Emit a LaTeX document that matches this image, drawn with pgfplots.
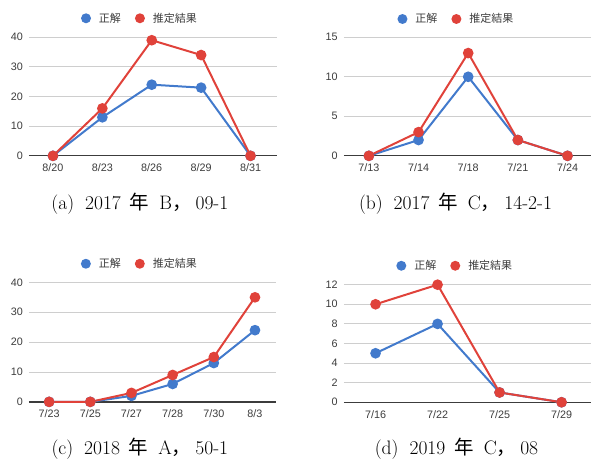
\documentclass[border=0pt]{standalone}
\usepackage{pgfplots}
\pgfplotsset{compat=1.18}
\usepackage{fontspec}
\newfontfamily\tickfont{Liberation Sans}
\newfontfamily\jpfont{Noto Sans CJK JP}

\definecolor{seriesblue}{RGB}{66,122,204}
\definecolor{seriesred}{RGB}{224,66,58}
\definecolor{gridgray}{RGB}{206,206,206}
\definecolor{labelgray}{RGB}{60,60,60}
\definecolor{basegray}{RGB}{60,60,60}

% daily counts: index, ground truth, estimate
\pgfplotstableread{
i truth est
0 0  0
1 13 16
2 24 39
3 23 34
4 0  0
}\dataA
\pgfplotstableread{
i truth est
0 0  0
1 2  3
2 10 13
3 2  2
4 0  0
}\dataB
\pgfplotstableread{
i truth est
0 0  0
1 0  0
2 2  3
3 6  9
4 13 15
5 24 35
}\dataC
\pgfplotstableread{
i truth est
0 5 10
1 8 12
2 1 1
3 0 0
}\dataD

\pgfplotsset{
  sheetchart/.style={
    scale only axis,
    clip=false,
    axis line style={draw=none},
    major tick length=0pt,
    ymin=0,
    ymajorgrids,
    major grid style={gridgray, line width=0.9pt},
    extra y ticks={0},
    extra y tick labels={},
    extra y tick style={major grid style={basegray, line width=1.3pt}},
    xtick=data,
    /pgf/number format/assume math mode=true,
    yticklabel style={font=\tickfont\fontsize{10.8}{12}\selectfont, text=labelgray,
      anchor=east, inner sep=0pt, xshift=-6pt},
    xticklabel style={font=\tickfont\fontsize{10.8}{12}\selectfont, text=labelgray,
      anchor=base, inner sep=0pt, yshift=-16pt},
    legend columns=2,
    legend image code/.code={\fill[##1, draw=none] (0pt,0pt) circle (5pt);},
    legend style={draw=none, fill=none, inner sep=0pt, outer sep=0pt,
      anchor=center,
      font=\jpfont\fontsize{11}{13}\selectfont, text=labelgray,
      nodes={inner sep=2pt},
      /tikz/column sep=6pt,
      /tikz/every even column/.append style={column sep=12pt}},
  },
  truth/.style={seriesblue, line width=2pt, mark=*, mark size=4.3pt,
    mark options={draw=none, fill=seriesblue}},
  est/.style={seriesred, line width=2pt, mark=*, mark size=4.3pt,
    mark options={draw=none, fill=seriesred}},
}

\newcommand{\capfont}{\fontsize{19.5}{23}\selectfont}
% sub-caption: label, year, group, id
\newcommand{\subcap}[4]{\capfont #1\hspace{11pt}#2\hspace{9pt}{\jpfont 年}\hspace{10pt}#3{\jpfont ，}\hspace{4pt}#4}

\begin{document}
\begin{tikzpicture}
\path (0pt,0pt) rectangle (592pt,461pt);

% (a)
\begin{axis}[sheetchart, at={(29pt,305pt)}, anchor=south west,
  width=248pt, height=118.7pt,
  xmin=-0.486, xmax=4.53, ymax=40, ytick={0,10,20,30,40},
  xticklabels={8/20,8/23,8/26,8/29,8/31},
  legend style={at={(0.448,1.16)}}]
\addplot[truth] table[x=i, y=truth] {\dataA};
\addplot[est] table[x=i, y=est] {\dataA};
\legend{正解,推定結果}
\end{axis}

% (b)
\begin{axis}[sheetchart, at={(344.3pt,305pt)}, anchor=south west,
  width=247.7pt, height=118.7pt,
  xmin=-0.503, xmax=4.48, ymax=15, ytick={0,5,10,15},
  xticklabels={7/13,7/14,7/18,7/21,7/24},
  legend style={at={(0.4546,1.154)}}]
\addplot[truth] table[x=i, y=truth] {\dataB};
\addplot[est] table[x=i, y=est] {\dataB};
\legend{正解,推定結果}
\end{axis}

% (c)
\begin{axis}[sheetchart, at={(29pt,58.7pt)}, anchor=south west,
  width=247.7pt, height=119.6pt,
  xmin=-0.49, xmax=5.52, ymax=40, ytick={0,10,20,30,40},
  xticklabels={7/23,7/25,7/27,7/28,7/30,8/3},
  legend style={at={(0.448,1.156)}}]
\addplot[truth] table[x=i, y=truth] {\dataC};
\addplot[est] table[x=i, y=est] {\dataC};
\legend{正解,推定結果}
\end{axis}

% (d)
\begin{axis}[sheetchart, at={(344.3pt,58.3pt)}, anchor=south west,
  width=247.7pt, height=117.7pt,
  xmin=-0.51, xmax=3.48, ymax=12, ytick={0,2,4,6,8,10,12},
  xticklabels={7/16,7/22,7/25,7/29},
  legend style={at={(0.450,1.161)}}]
\addplot[truth] table[x=i, y=truth] {\dataD};
\addplot[est] table[x=i, y=est] {\dataD};
\legend{正解,推定結果}
\end{axis}

% sub-captions
\node[anchor=base] at (140pt,251pt) {\subcap{(a)}{2017}{B}{09-1}};
\node[anchor=base] at (456pt,251pt) {\subcap{(b)}{2017}{C}{14-2-1}};
\node[anchor=base] at (140pt,6pt) {\subcap{(c)}{2018}{A}{50-1}};
\node[anchor=base] at (457pt,6pt) {\subcap{(d)}{2019}{C}{08}};
\end{tikzpicture}
\end{document}
